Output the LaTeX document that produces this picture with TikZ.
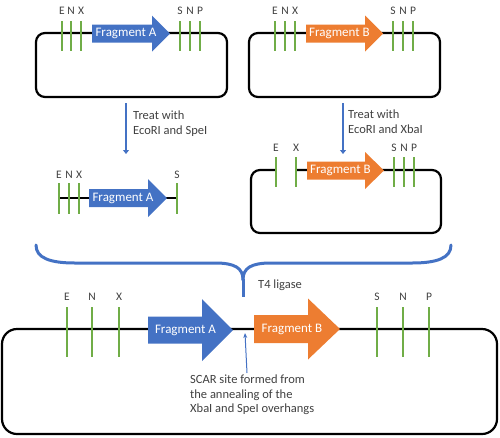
\documentclass[tikz,border=0pt]{standalone}
\usepackage{fontspec}
\setmainfont{Carlito}
\usetikzlibrary{arrows.meta}
\definecolor{fblue}{RGB}{68,114,196}
\definecolor{forange}{RGB}{237,125,49}
\definecolor{sgreen}{RGB}{112,173,71}
\definecolor{tgray}{RGB}{64,64,64}
\tikzset{
 plasmid/.style={draw=black, line width=2.2pt, rounded corners=9pt},
 site/.style={draw=sgreen, line width=1.4pt},
 sitelbl/.style={text=tgray, font=\fontsize{11.5}{13}\selectfont, inner sep=0pt},
 fraglbl/.style={text=white, font=\fontsize{13}{15}\selectfont, inner sep=0pt},
 note/.style={text=tgray, font=\fontsize{12.5}{14.2}\selectfont, align=left, inner sep=0pt},
 flow/.style={draw=fblue, line width=2.5pt, -{Triangle[width=6pt,length=4pt]}},
 brace/.style={draw=fblue, line width=3pt},
 scar/.style={draw=fblue, line width=1pt, -{Stealth[width=4pt,length=5pt]}},
}
% #1 name, #2 x0, #3 x1, #4 xt, #5 yc, #6 body half, #7 head half, #8 colour, #9 text
\newcommand\fragarrow[9]{%
 \fill[#8] (#2,#5-#6) -- (#3,#5-#6) -- (#3,#5-#7) -- (#4,#5) -- (#3,#5+#7) -- (#3,#5+#6) -- (#2,#5+#6) -- cycle;
 \node[fraglbl] (#1) at ({(#2+#4)/2-5},#5) {#9};
}
% #1 name, #2 x, #3 y0, #4 y1, #5 label y, #6 text
\newcommand\site[6]{%
 \draw[site] (#2,#3) -- (#2,#4);
 \node[sitelbl] (#1) at (#2,#5) {#6};
}
\begin{document}
\begin{tikzpicture}[x=1pt,y=-1pt]
\useasboundingbox (0,0) rectangle (500,437);

% ---- top left plasmid
\draw[plasmid] (36,33) rectangle (227,97);
\site{tlE}{62}{21}{51}{11}{E}
\site{tlN}{71}{21}{51}{11}{N}
\site{tlX}{81}{21}{51}{11}{X}
\site{tlS}{180}{21}{51}{11}{S}
\site{tlN2}{190}{21}{51}{11}{N}
\site{tlP}{200}{21}{51}{11}{P}
\fragarrow{fragA1}{92}{152}{170}{33.5}{9}{18}{fblue}{Fragment A}

% ---- top right plasmid
\draw[plasmid] (249,33) rectangle (440,97);
\site{trE}{275}{21}{51}{11}{E}
\site{trN}{285}{21}{51}{11}{N}
\site{trX}{295}{21}{51}{11}{X}
\site{trS}{393}{21}{51}{11}{S}
\site{trN2}{403}{21}{51}{11}{N}
\site{trP}{413}{21}{51}{11}{P}
\fragarrow{fragB1}{306}{365}{383}{33.5}{9}{18}{forange}{Fragment B}

% ---- treatment arrows
\coordinate (t1s) at (126,103);
\coordinate (t1e) at (126,154);
\draw[flow] (t1s) -- (t1e);
\node[note, anchor=north west] (t1txt) at (133,111) {Treat with\\EcoRI and SpeI};
\coordinate (t2s) at (343,103);
\coordinate (t2e) at (343,154);
\draw[flow] (t2s) -- (t2e);
\node[note, anchor=north west] (t2txt) at (348,110) {Treat with\\EcoRI and XbaI};

% ---- middle left linear fragment
\draw[black, line width=2.2pt] (59,198) -- (177,198);
\site{mlE}{59}{183}{214}{175}{E}
\site{mlN}{69}{183}{214}{175}{N}
\site{mlX}{79}{183}{214}{175}{X}
\site{mlS}{177}{183}{214}{175}{S}
\fragarrow{fragA2}{89}{148}{167}{198}{9}{19}{fblue}{Fragment A}

% ---- middle right opened plasmid
\draw[plasmid] (276,170) -- (251,170) -- (251,233) -- (441,233) -- (441,170) -- (296,170);
\site{mrE}{276}{157}{187}{148}{E}
\site{mrX}{296}{157}{187}{148}{X}
\site{mrS}{394}{157}{187}{148}{S}
\site{mrN}{404}{157}{187}{148}{N}
\site{mrP}{414}{157}{187}{148}{P}
\fragarrow{fragB2}{307}{365}{384}{170.5}{9}{18.5}{forange}{Fragment B}

% ---- brace
\draw[brace, line cap=round] (36,245) .. controls (36,258) and (50,263) .. (75,263) -- (215,263)
  .. controls (235,263) and (243,268) .. (243,280);
\draw[brace, line cap=round] (451,245) .. controls (451,258) and (437,263) .. (412,263) -- (271,263)
  .. controls (251,263) and (243,268) .. (243,280);
\draw[brace] (243,279) -- (243,297);
\node[note, anchor=west] (lig) at (258,285) {T4 ligase};

% ---- bottom plasmid
\draw[plasmid, rounded corners=15pt] (2,329) rectangle (497,434);
\site{bE}{67}{307}{357}{297}{E}
\site{bN}{92}{307}{357}{297}{N}
\site{bX}{119}{307}{357}{297}{X}
\site{bS}{377}{307}{357}{297}{S}
\site{bN2}{403}{307}{357}{297}{N}
\site{bP}{429}{307}{357}{297}{P}
\fragarrow{fragA3}{148}{202}{233}{330}{13.5}{31}{fblue}{Fragment A}
\fragarrow{fragB3}{254}{308}{340}{329}{14}{30.5}{forange}{Fragment B}

% ---- scar
\node[note, anchor=north west] (scartxt) at (190,375) {SCAR site formed from\\the annealing of the\\XbaI and SpeI overhangs};
\coordinate (scarpt) at (245,333);
\draw[scar] (247,373) -- (scarpt);
\end{tikzpicture}
\end{document}
